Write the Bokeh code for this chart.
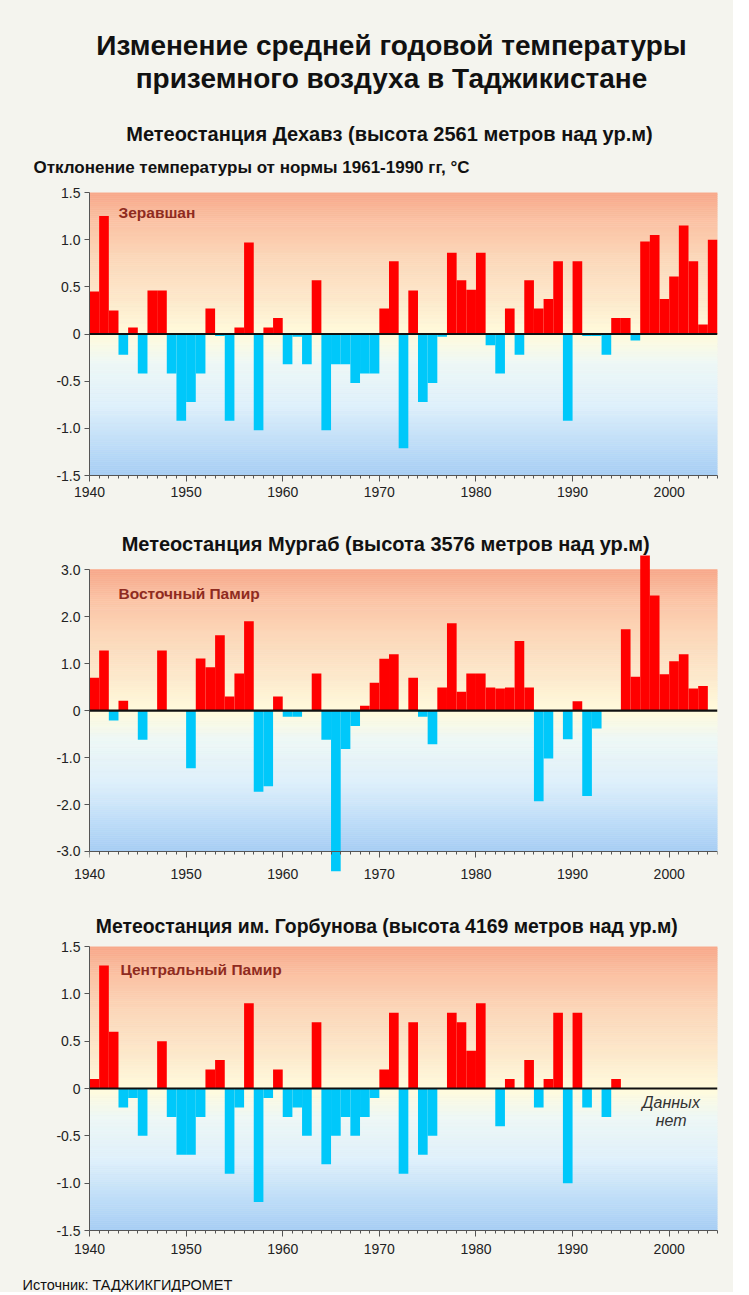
import numpy as np
from bokeh.plotting import figure
from bokeh.models import (Range1d, Span, Label, Title, FixedTicker,
                          SingleIntervalTicker, LinearAxis)
from bokeh.core.properties import value
from bokeh.layouts import column
from bokeh.embed import file_html
from bokeh.resources import INLINE

# ---------------- data ----------------
years = list(range(1940, 2005))

dehavz = [0.45, 1.25, 0.25, -0.22, 0.07, -0.42, 0.46, 0.46, -0.42, -0.92,
          -0.72, -0.42, 0.27, -0.02, -0.92, 0.07, 0.97, -1.02, 0.07, 0.17,
          -0.32, -0.03, -0.32, 0.57, -1.02, -0.32, -0.32, -0.52, -0.42, -0.42,
          0.27, 0.77, -1.21, 0.46, -0.72, -0.52, -0.03, 0.86, 0.57, 0.47,
          0.86, -0.12, -0.42, 0.27, -0.22, 0.57, 0.27, 0.37, 0.77, -0.92,
          0.77, -0.02, -0.02, -0.22, 0.17, 0.17, -0.07, 0.98, 1.05, 0.37,
          0.61, 1.15, 0.77, 0.10, 1.00]

murgab = [0.70, 1.28, -0.21, 0.21, 0.0, -0.62, 0.0, 1.28, 0.0, 0.0,
          -1.23, 1.11, 0.92, 1.60, 0.30, 0.79, 1.90, -1.73, -1.61, 0.30,
          -0.13, -0.13, 0.0, 0.79, -0.62, -3.42, -0.82, -0.33, 0.10, 0.59,
          1.10, 1.20, 0.0, 0.70, -0.13, -0.72, 0.49, 1.86, 0.40, 0.79,
          0.79, 0.49, 0.47, 0.49, 1.48, 0.49, -1.93, -1.02, 0.0, -0.61,
          0.20, -1.82, -0.38, 0.0, 0.0, 1.73, 0.72, 3.35, 2.45, 0.77,
          1.05, 1.20, 0.47, 0.52, None]

gorbunov = [0.1, 1.3, 0.6, -0.2, -0.1, -0.5, 0.0, 0.5, -0.3, -0.7,
            -0.7, -0.3, 0.2, 0.3, -0.9, -0.2, 0.9, -1.2, -0.1, 0.2,
            -0.3, -0.2, -0.5, 0.7, -0.8, -0.5, -0.3, -0.5, -0.3, -0.1,
            0.2, 0.8, -0.9, 0.7, -0.7, -0.5, 0.0, 0.8, 0.7, 0.4,
            0.9, 0.0, -0.4, 0.1, 0.0, 0.3, -0.2, 0.1, 0.8, -1.0,
            0.8, -0.2, 0.0, -0.3, 0.1,
            None, None, None, None, None, None, None, None, None, None]

main_title_1 = "Изменение средней годовой температуры"
main_title_2 = "приземного воздуха в Таджикистане"
station_titles = ["Метеостанция Дехавз (высота 2561 метров над ур.м)",
                  "Метеостанция Мургаб  (высота 3576 метров над ур.м)",
                  "Метеостанция им. Горбунова  (высота 4169 метров над ур.м)"]
region_names = ["Зеравшан", "Восточный Памир", "Центральный Памир"]
y_axis_caption = "Отклонение температуры от нормы 1961-1990 гг, °C"
no_data_text = ["Данных", "нет"]
source_text = "Источник: ТАДЖИКГИДРОМЕТ"

ticks_small = [-1.5, -1.0, -0.5, 0, 0.5, 1.0, 1.5]
tick_labels_small = ["-1.5", "-1.0", "-0.5", "0", "0.5", "1.0", "1.5"]
ticks_big = [-3, -2, -1, 0, 1, 2, 3]
tick_labels_big = ["-3.0", "-2.0", "-1.0", "0", "1.0", "2.0", "3.0"]

# ---------------- style ----------------
FONT = "Liberation Sans"
BG = "#f4f4ee"
RED = "#ff0000"
BLUE = "#00c8fa"
AXIS = "#555555"
FL, FW, FR = 89, 628, 16          # left border, frame width, right border
grad_t = [0.0, 0.10, 0.25, 0.40, 0.49, 0.51, 0.62, 0.78, 0.90, 1.0]
grad_c = ["#a6cdf4", "#bcdcf8", "#dff0fb", "#eef8f6", "#fffbde",
          "#fffadb", "#fde9cc", "#fcd6b8", "#fbc2a4", "#f8a88a"]


def hex2rgb(h):
    h = h.lstrip("#")
    return np.array([int(h[i:i + 2], 16) for i in (0, 2, 4)], dtype=float)


def gradient_colors(n):
    t = (np.arange(n) + 0.5) / n
    rgb = np.array([hex2rgb(c) for c in grad_c])
    out = []
    for ti in t:
        r = [np.interp(ti, grad_t, rgb[:, k]) for k in range(3)]
        out.append("#%02x%02x%02x" % tuple(int(round(v)) for v in r))
    return out


def header(height, items, bottom=0):
    """Text-only strip; x is page pixels, y runs downward from strip top."""
    h = figure(frame_width=FW, frame_height=height,
               x_range=Range1d(FL, FL + FW), y_range=Range1d(height, 0),
               x_axis_type=None, y_axis_type=None,
               output_backend="svg", toolbar_location=None,
               min_border_left=FL, min_border_right=FR,
               min_border_top=0, min_border_bottom=bottom,
               background_fill_color=BG, border_fill_color=BG,
               outline_line_color=None)
    h.title.text = ""
    h.grid.visible = False
    for (txt, x, y, size, style) in items:
        h.text(x=[x], y=[y], text=[txt], text_font=value(FONT),
               text_font_size=value(size), text_font_style=style,
               text_color="#111111", text_align="center",
               text_baseline="middle")
    return h


def style_x_axis(ax, standoff):
    ax.ticker = SingleIntervalTicker(interval=10, num_minor_ticks=10)
    ax.major_tick_in = 0
    ax.major_tick_out = 6
    ax.minor_tick_in = 0
    ax.minor_tick_out = 3
    ax.axis_line_color = AXIS
    ax.major_tick_line_color = AXIS
    ax.minor_tick_line_color = AXIS
    ax.major_label_text_font = FONT
    ax.major_label_text_font_size = "14px"
    ax.major_label_text_color = "#222222"
    ax.major_label_standoff = standoff


def make_panel(values, ticks, tick_labels, y_start, y_end, frame_h,
               top_border, bottom_border, label_standoff, overflow=False):
    p = figure(frame_width=FW, frame_height=frame_h,
               x_range=Range1d(1940, 2005), y_range=Range1d(y_start, y_end),
               x_axis_location=None if overflow else "below",
               output_backend="svg", toolbar_location=None,
               min_border_left=FL, min_border_right=FR,
               min_border_top=top_border, min_border_bottom=bottom_border,
               background_fill_color=BG, border_fill_color=BG,
               outline_line_color=None)
    p.title.text = ""
    p.grid.visible = False

    lo, hi = ticks[0], ticks[-1]
    n = 140
    edges = np.linspace(lo, hi, n + 1)
    cols = gradient_colors(n)
    p.quad(left=1940, right=2005, bottom=edges[:-1], top=edges[1:],
           fill_color=cols, line_color=cols, line_width=0.6)

    vals = np.array([np.nan if v is None else v for v in values], dtype=float)
    yrs = np.array(years, dtype=float)
    pos = vals > 0
    neg = vals < 0
    p.quad(left=yrs[pos], right=yrs[pos] + 1, bottom=0, top=vals[pos],
           fill_color=RED, line_color=None)
    p.quad(left=yrs[neg], right=yrs[neg] + 1, bottom=0, top=vals[neg],
           fill_color=BLUE, line_color=None)

    p.add_layout(Span(location=0, dimension="width", line_color="#111111",
                      line_width=2.2))

    if overflow:
        # labels only, on the outer edge, pulled up next to the lowest tick line
        lab = LinearAxis()
        style_x_axis(lab, label_standoff)
        lab.axis_line_color = None
        lab.major_tick_line_color = None
        lab.minor_tick_line_color = None
        lab.major_tick_out = 0
        lab.minor_tick_out = 0
        p.add_layout(lab, "below")
        # axis line and ticks drawn at the lowest tick value
        fx = LinearAxis(fixed_location=lo)
        style_x_axis(fx, 3)
        fx.major_label_text_alpha = 0
        p.add_layout(fx, "below")
    else:
        style_x_axis(p.xaxis[0], label_standoff)

    ya = p.yaxis[0]
    ya.ticker = FixedTicker(ticks=ticks, minor_ticks=[])
    ya.major_label_overrides = dict(zip(ticks, tick_labels))
    ya.bounds = (lo, hi)
    ya.major_tick_in = 0
    ya.major_tick_out = 5
    ya.axis_line_color = AXIS
    ya.major_tick_line_color = AXIS
    ya.major_label_text_font = FONT
    ya.major_label_text_font_size = "14px"
    ya.major_label_text_color = "#222222"
    ya.major_label_standoff = 4
    return p


def region_label(text, x, y):
    return Label(x=x, y=y, text=text, text_font=FONT, text_font_size="15.5px",
                 text_font_style="bold", text_color="#8f2b20",
                 text_baseline="middle", text_align="left")


def side_title(text, size, style, offset):
    return Title(text=text, align="left", offset=offset, text_font=FONT,
                 text_font_size=size, text_font_style=style,
                 text_color="#111111", standoff=0)


# ---------------- header ----------------
h1 = header(155, [
    (main_title_1, 391, 45, "28px", "bold"),
    (main_title_2, 391, 78, "28px", "bold"),
    (station_titles[0], 389, 133, "20px", "bold"),
], bottom=31)
h1.add_layout(side_title(y_axis_caption, "17px", "bold", 33 - FL), "below")

# ---------------- panel 1 ----------------
p1 = make_panel(dehavz, ticks_small, tick_labels_small, -1.5, 1.5, 283, 6, 35, 5)
p1.add_layout(region_label(region_names[0], 1943.0, 1.29))

h2 = header(45, [(station_titles[1], 388, 33, "20px", "bold")])

# ---------------- panel 2 ----------------
p2 = make_panel(murgab, ticks_big, tick_labels_big, -3.66, 3.30, 327, 0, 24, -14,
                overflow=True)
p2.add_layout(region_label(region_names[1], 1943.0, 2.5))

h3 = header(34, [(station_titles[2], 389, 19, "19.4px", "bold")])

# ---------------- panel 3 ----------------
p3 = make_panel(gorbunov, ticks_small, tick_labels_small, -1.5, 1.5, 284, 6, 28, 7)
p3.add_layout(region_label(region_names[2], 1943.2, 1.26))
for txt, yy in zip(no_data_text, [-0.15, -0.34]):
    p3.add_layout(Label(x=2000.2, y=yy, text=txt, text_font=FONT,
                        text_font_size="16px", text_font_style="italic",
                        text_color="#333333", text_align="center",
                        text_baseline="middle"))

h4 = header(16, [])
h4.add_layout(side_title(source_text, "14.5px", "normal", 22 - FL), "below")

layout = column(h1, p1, h2, p2, h3, p3, h4, spacing=0)
layout.background = BG

open("out.html", "w").write(file_html(layout, INLINE))
